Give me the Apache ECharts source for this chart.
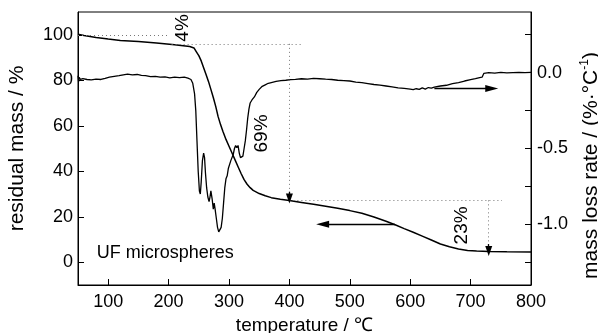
<!DOCTYPE html>
<html><head><meta charset="utf-8">
<script src="https://cdn.jsdelivr.net/npm/echarts@6/dist/echarts.min.js"></script>
<style>html,body{margin:0;padding:0;background:#fff}#c{width:598px;height:333px}</style>
</head><body><div id="c"></div>
<script>
// TG curve: temperature (°C) vs residual mass (%)
const tgTemp = [50,60,80,100,120,150,180,210,235,242,246,250,254,258,262,266,270,274,278,282,286,290,295,300,305,310,315,320,325,330,335,340,350,360,370,385,400,420,440,460,480,500,520,540,560,575,590,605,620,635,650,665,680,695,710,730,760,800];
const tgMass = [100.2,99.7,98.8,98.1,97.5,97.0,96.4,95.6,94.8,94.2,92.5,90.8,88.5,85.5,82.5,79.5,76,72.4,68.5,64,60.5,57.5,54,51,48,45,42,39,36.3,34.3,32.8,31.6,30.2,29.2,28.4,27.7,27.1,26.3,25.5,24.6,23.7,22.7,21.5,19.9,18,16.5,14.8,13.2,11.5,9.8,8.0,6.8,5.8,5.2,4.9,4.7,4.6,4.5];
// DTG curve: temperature (°C) vs mass loss rate (%/°C)
const dtgTemp = [50,51,52,54,58,65,72,80,88,95,102,110,118,125,132,140,148,155,162,170,178,186,194,202,210,218,226,232,237,240,243,245,247,249,251,252.5,254,256,258,259.5,261,263,265,267,268.5,270,272,274,275.5,277,279,281,283,285,287,289,291,293,295,297,299,301,303,305,307,309,311,313,315,317,319,321,323,325,327,329,331,333,335,338,342,346,350,355,360,365,370,378,386,394,402,410,420,430,440,450,460,470,480,490,500,510,520,530,540,550,560,570,580,590,600,605,610,615,620,625,630,635,640,650,660,670,680,690,700,708,715,719,722,730,740,750,760,770,780,790,800];
const dtgRate = [-0.02,-0.06,-0.03,-0.045,-0.04,-0.045,-0.048,-0.042,-0.045,-0.038,-0.03,-0.025,-0.02,-0.014,-0.01,-0.014,-0.012,-0.018,-0.02,-0.026,-0.024,-0.03,-0.028,-0.034,-0.03,-0.033,-0.03,-0.036,-0.045,-0.07,-0.14,-0.25,-0.45,-0.65,-0.78,-0.80,-0.72,-0.58,-0.53,-0.56,-0.66,-0.76,-0.82,-0.85,-0.82,-0.78,-0.83,-0.90,-0.86,-0.90,-0.96,-1.02,-1.05,-1.06,-1.02,-0.96,-0.86,-0.76,-0.70,-0.68,-0.63,-0.62,-0.58,-0.575,-0.54,-0.50,-0.48,-0.495,-0.48,-0.53,-0.56,-0.57,-0.55,-0.50,-0.45,-0.38,-0.30,-0.24,-0.20,-0.18,-0.16,-0.13,-0.11,-0.09,-0.08,-0.07,-0.065,-0.058,-0.053,-0.05,-0.046,-0.044,-0.04,-0.042,-0.038,-0.04,-0.043,-0.045,-0.05,-0.052,-0.055,-0.062,-0.066,-0.072,-0.078,-0.082,-0.088,-0.094,-0.10,-0.104,-0.108,-0.112,-0.106,-0.11,-0.10,-0.108,-0.098,-0.102,-0.095,-0.088,-0.083,-0.072,-0.065,-0.055,-0.046,-0.04,-0.032,-0.03,-0.004,0.0,-0.003,0.002,-0.002,0.0,0.002,0.0,0.002];
// axis ticks
const xTicks = [100,200,300,400,500,600,700,800];
const leftTicks = [0,20,40,60,80,100];
const rightTicks = [-1.25,-1.0,-0.75,-0.5,-0.25,0,0.25];
const rightLabels = [-1.0,-0.5,0.0];
// annotations (data coordinates)
const pctLabels = ['4%','69%','23%'];
const pctTemp = [224,355,686];
const pctMass = [103,56.6,16.2];
const sampleName = 'UF microspheres';
const samplePos = [81,4];

const chart = echarts.init(document.getElementById('c'), null, {renderer:'canvas'});
const FONT = 'Liberation Sans, Arial, sans-serif';
const dotted = {type:[1,3], color:'#777', width:1};
const solid = {type:'solid', color:'#000', width:1.3};

chart.setOption({
  animation:false,
  backgroundColor:'#fff',
  grid:{left:78,right:67,top:12,bottom:48,outerBoundsMode:'none',containLabel:false,
        show:true,borderColor:'#000',borderWidth:1,backgroundColor:'transparent'},
  xAxis:{type:'value',min:50,max:800,
    name:'temperature / ℃',nameLocation:'middle',nameGap:28,
    nameTextStyle:{fontFamily:FONT,fontSize:19,color:'#000'},
    axisLine:{show:true,onZero:false,lineStyle:{color:'#000',width:1}},
    axisTick:{show:true,inside:true,length:6,customValues:xTicks,lineStyle:{color:'#000'}},
    axisLabel:{customValues:xTicks,margin:8,fontFamily:FONT,fontSize:18,color:'#000'},
    splitLine:{show:false}},
  yAxis:[
    {type:'value',min:-10,max:110,position:'left',
     name:'residual mass / %',nameLocation:'middle',nameGap:50,
     nameTextStyle:{fontFamily:FONT,fontSize:21,color:'#000'},
     axisLine:{show:true,onZero:false,lineStyle:{color:'#000',width:1}},
     axisTick:{show:true,inside:true,length:6,customValues:leftTicks,lineStyle:{color:'#000'}},
     axisLabel:{customValues:leftTicks,margin:5,fontFamily:FONT,fontSize:18,color:'#000'},
     splitLine:{show:false}},
    {type:'value',min:-1.4,max:0.4,position:'right',
     name:'mass loss rate / (%·°C{sup|-1})',nameLocation:'middle',nameGap:38,
     nameTextStyle:{fontFamily:FONT,fontSize:21,color:'#000',padding:[0,34,0,0],
       rich:{sup:{fontFamily:FONT,fontSize:12,color:'#000',padding:[0,0,12,0]}}},
     axisLine:{show:true,onZero:false,lineStyle:{color:'#000',width:1}},
     axisTick:{show:true,inside:true,length:6,customValues:rightTicks,lineStyle:{color:'#000'}},
     axisLabel:{customValues:rightLabels,margin:6,fontFamily:FONT,fontSize:18,color:'#000',
       formatter:v=>v.toFixed(1)},
     splitLine:{show:false}}
  ],
  series:[
    {type:'line',name:'TG',yAxisIndex:0,showSymbol:false,symbol:'none',
     lineStyle:{color:'#000',width:1.5},
     data:tgTemp.map((t,i)=>[t,tgMass[i]]),
     markLine:{silent:true,animation:false,label:{show:false},symbol:['none','none'],
       data:[
        [{coord:[50,100],lineStyle:dotted},{coord:[202,100]}],
        [{coord:[205,96],lineStyle:dotted},{coord:[420,96]}],
        [{coord:[400,96],lineStyle:dotted},{coord:[400,28]}],
        [{coord:[400,27.2],lineStyle:dotted},{coord:[752,27.2]}],
        [{coord:[730,27.2],lineStyle:dotted},{coord:[730,5]}],
        [{coord:[400,31],lineStyle:solid,symbol:'none'},{coord:[400,28],symbol:'triangle',symbolSize:[7,10]}],
        [{coord:[730,8],lineStyle:solid,symbol:'none'},{coord:[730,5],symbol:'triangle',symbolSize:[7,10]}],
        [{coord:[575,16.7],lineStyle:solid,symbol:'none'},{coord:[455,16.7],symbol:'triangle',symbolSize:[7,13]}]
       ]}},
    {type:'line',name:'DTG',yAxisIndex:1,showSymbol:false,symbol:'none',
     lineStyle:{color:'#000',width:1.3},
     data:dtgTemp.map((t,i)=>[t,dtgRate[i]]),
     markLine:{silent:true,animation:false,label:{show:false},symbol:['none','none'],
       data:[
        [{coord:[640,-0.105],lineStyle:solid,symbol:'none'},{coord:[735,-0.105],symbol:'triangle',symbolSize:[7,13]}]
       ]}},
    {type:'scatter',yAxisIndex:0,symbolSize:0,silent:true,itemStyle:{opacity:1},
     data:pctTemp.map((t,i)=>({value:[t,pctMass[i]],name:pctLabels[i]})),
     label:{show:true,position:'inside',rotate:90,formatter:p=>p.name,opacity:1,
       fontFamily:FONT,fontSize:19,color:'#000',textBorderWidth:0}},
    {type:'scatter',yAxisIndex:0,symbolSize:0,silent:true,itemStyle:{opacity:1},
     data:[{value:samplePos,name:sampleName}],
     label:{show:true,position:'right',distance:0,formatter:p=>p.name,opacity:1,
       fontFamily:FONT,fontSize:18,color:'#000',textBorderWidth:0}}
  ]
});
</script></body></html>
